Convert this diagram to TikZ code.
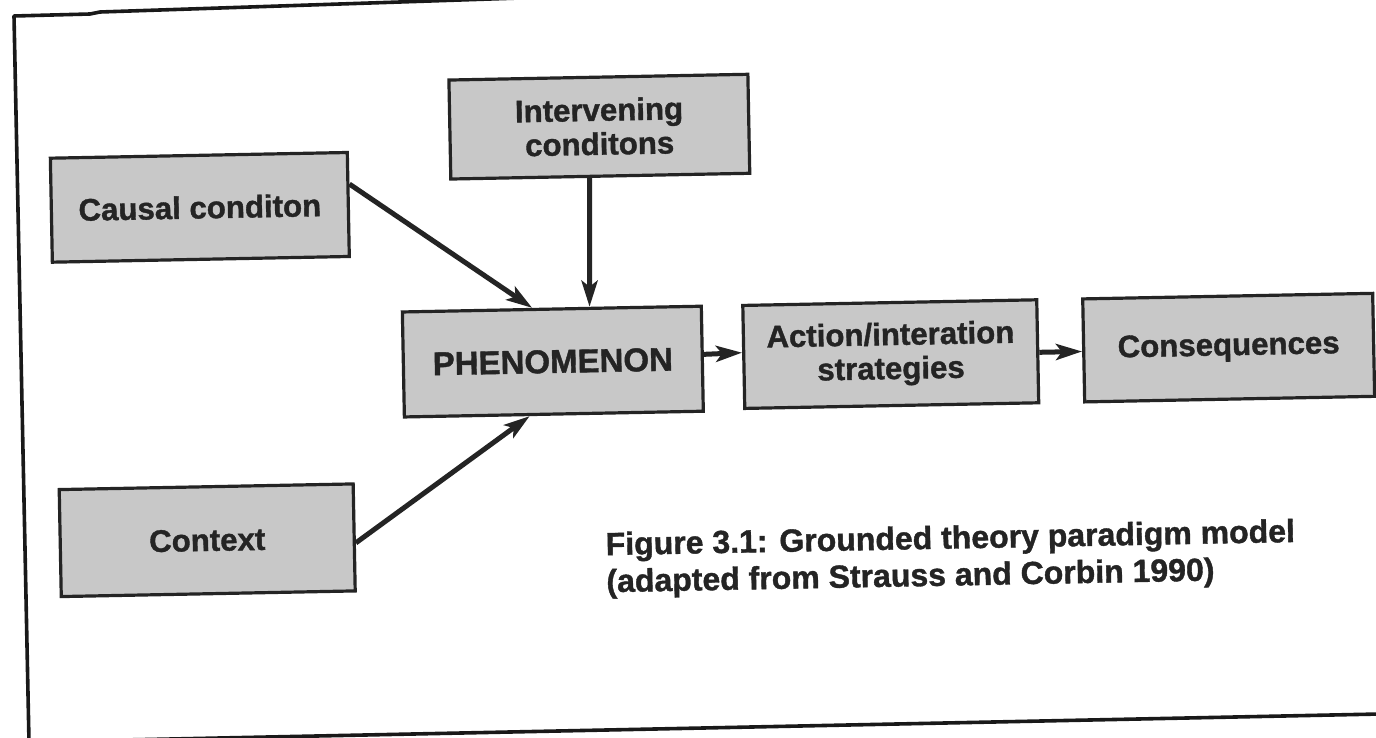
\documentclass[tikz,border=0pt]{standalone}
\usepackage{fontspec}
\setmainfont{Liberation Sans}[BoldFeatures={FakeBold=1.2}]
\usetikzlibrary{arrows.meta,calc}
\definecolor{boxfill}{RGB}{200,200,200}
\definecolor{ink}{RGB}{36,36,36}
\tikzset{
  box/.style={draw=ink, line width=1.6pt, fill=boxfill, text=ink,
    font=\fontsize{15.6}{17}\selectfont\bfseries, align=center,
    inner sep=0pt, transform shape},
  link/.style={draw=ink, line width=2.5pt,
    -{Stealth[length=13pt,width=8pt,inset=3pt]}},
  frame/.style={draw=black!90, line width=1.8pt, line join=round},
  captext/.style={text=ink, font=\fontsize{16}{18.5}\selectfont\bfseries,
    align=left, inner sep=0pt, anchor=north west, transform shape}
}
\begin{document}
\begin{tikzpicture}[x=0.5pt,y=-0.5pt]
\useasboundingbox (0,0) rectangle (1376,738);
\fill[white] (0,0) rectangle (1376,738);
% page frame
\draw[frame] (520,-2) -- (100,12) -- (90,14) -- (14,16) -- (29,742);
\draw[frame] (123,740) -- (1380,714);
\begin{scope}[rotate around={1.1:(688,369)}]
  \node[box, minimum width=148.5pt, minimum height=52pt] (causal) at (203,198) {Causal conditon};
  \node[box, minimum width=149.5pt, minimum height=49.5pt] (interv) at (604,125) {Intervening\\conditons};
  \node[box, minimum width=149.5pt, minimum height=52.5pt, font=\fontsize{16.5}{18}\selectfont\bfseries] (phen) at (553,359) {PHENOMENON};
  \node[box, minimum width=147pt, minimum height=51.5pt] (action) at (891,358) {Action/interation\\strategies};
  \node[box, minimum width=145pt, minimum height=51.5pt] (conseq) at (1229,358) {Consequences};
  \node[box, minimum width=147pt, minimum height=53.5pt] (context) at (204,531) {Context};
  \node[captext] (caption) at (602,530) {Figure 3.1: Grounded theory paradigm model\\(adapted from Strauss and Corbin 1990)};

  % connectors
  \draw[link] ($(causal.north east)!0.31!(causal.south east)$) -- ($(phen.north west)!0.435!(phen.north east)$);
  \draw[link] ($(interv.south west)!0.465!(interv.south east)$) -- ($(phen.north west)!0.625!(phen.north east)$);
  \draw[link] ($(context.north east)!0.55!(context.south east)$) -- ($(phen.south west)!0.42!(phen.south east)$);
  \draw[link] ($(phen.north east)!0.46!(phen.south east)$) -- ($(action.north west)!0.46!(action.south west)$);
  \draw[link] ($(action.north east)!0.51!(action.south east)$) -- ($(conseq.north west)!0.51!(conseq.south west)$);
\end{scope}
\end{tikzpicture}
\end{document}
